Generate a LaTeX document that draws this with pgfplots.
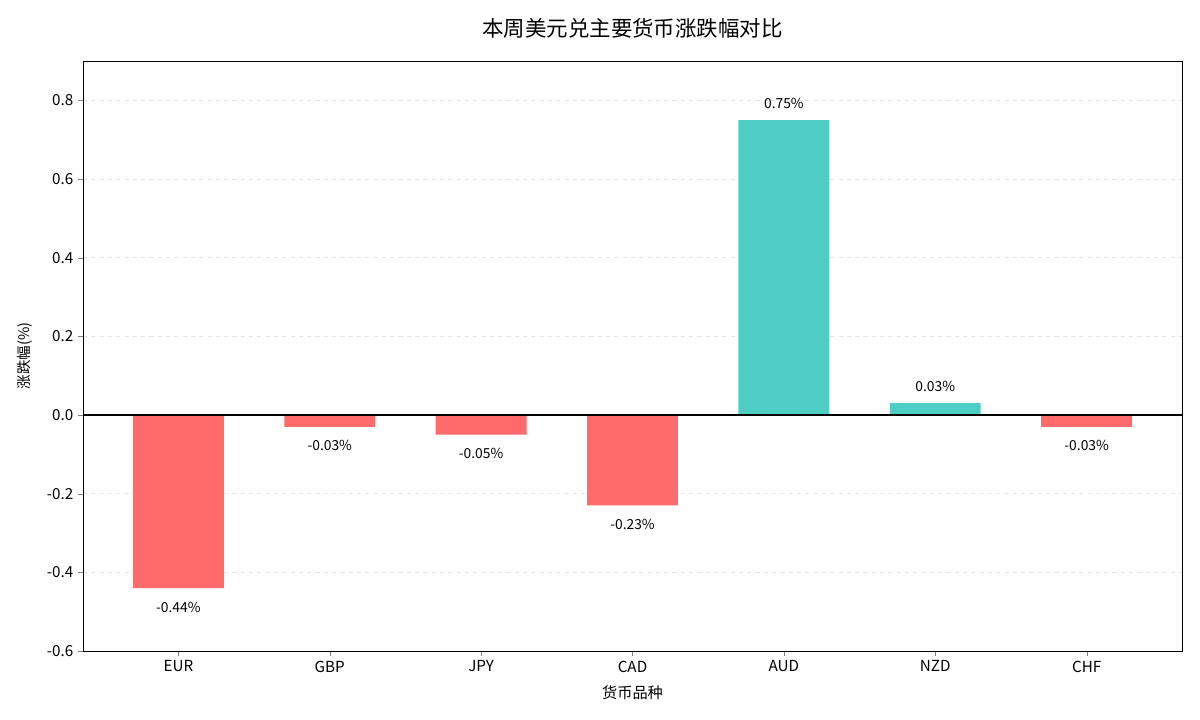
\documentclass[border=0pt]{standalone}
\usepackage{pgfplots}
\pgfplotsset{compat=1.18}
\usepackage{fontspec}
\setmainfont{Noto Sans CJK SC}
\definecolor{negred}{HTML}{FF6B6B}
\definecolor{posteal}{HTML}{4ECDC4}
\begin{document}
\begin{tikzpicture}
\useasboundingbox (-0.83in,-0.69in) rectangle (11.17in,6.51in);
\begin{axis}[
  at={(0,0)}, anchor=south west,
  scale only axis, width=10.99in, height=5.90in,
  xmin=-0.63, xmax=6.63, ymin=-0.6, ymax=0.9,
  xtick={0,1,2,3,4,5,6},
  xticklabels={EUR,GBP,JPY,CAD,AUD,NZD,CHF},
  ytick={-0.6,-0.4,-0.2,0,0.2,0.4,0.6,0.8},
  yticklabel style={/pgf/number format/.cd, fixed, fixed zerofill, precision=1, assume math mode=true},
  tick label style={font=\fontsize{11}{13}\selectfont},
  tick align=outside, major tick length=3.5pt,
  xtick pos=bottom, ytick pos=left,
  ymajorgrids, major grid style={dashed, gray!20, line width=0.6pt},
  axis line style={black, line width=0.7pt},
  title={本周美元兑主要货币涨跌幅对比},
  title style={at={(axis description cs:0.5,1.0525)}, anchor=center, yshift=-0.07in, font=\fontsize{15.5}{18}\selectfont},
  xlabel={货币品种},
  xlabel style={at={(axis description cs:0.5,-0.0712)}, anchor=center, font=\fontsize{11}{13}\selectfont},
  ylabel={涨跌幅(\%)},
  ylabel style={at={(axis description cs:-0.0528,0.5)}, anchor=center, font=\fontsize{10.5}{13}\selectfont},
  ybar, bar width=0.6, bar shift=0pt,
  point meta=y,
  nodes near coords={\pgfmathprintnumber[fixed, fixed zerofill, precision=2, assume math mode=true]{\pgfplotspointmeta}\%},
  every node near coord/.append style={font=\fontsize{10}{12}\selectfont, text=black},
]
\addplot[fill=negred, draw=none,
  nodes near coords style={anchor=center, yshift=-0.19in}]
  coordinates {(0,-0.44) (1,-0.03) (2,-0.05) (3,-0.23) (6,-0.03)};
\addplot[fill=posteal, draw=none,
  nodes near coords style={anchor=center, yshift=0.17in}]
  coordinates {(4,0.75) (5,0.03)};
\draw[black, line width=0.8pt] (axis cs:-0.63,0) -- (axis cs:6.63,0);
\end{axis}
\end{tikzpicture}
\end{document}
